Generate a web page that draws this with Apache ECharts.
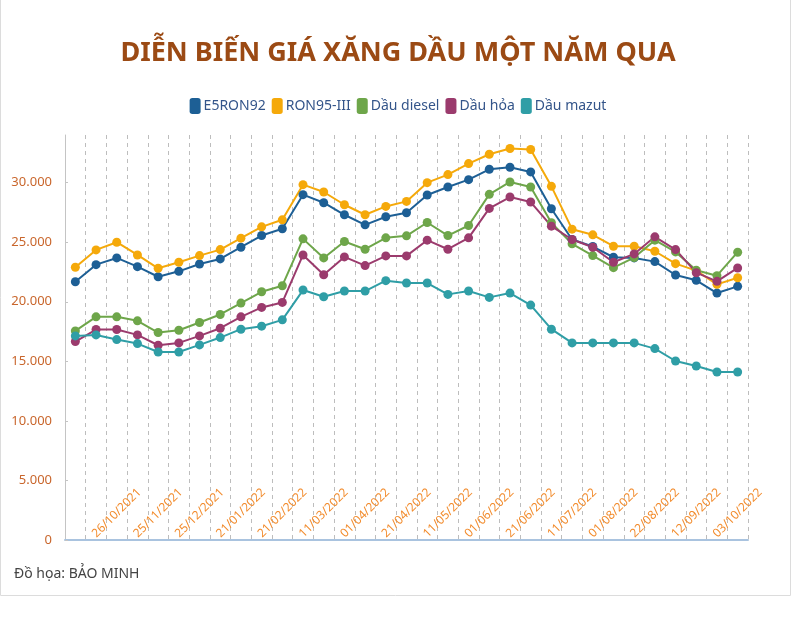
<!DOCTYPE html>
<html>
<head>
<meta charset="utf-8">
<title>Diễn biến giá xăng dầu một năm qua</title>
<script src="https://cdn.jsdelivr.net/npm/echarts@6/dist/echarts.min.js"></script>
<style>
  html, body { margin: 0; padding: 0; background: #fff; }
  #chart { width: 796px; height: 620px; }
</style>
</head>
<body>
<div id="chart"></div>
<script>
// ngày điều chỉnh giá
const dates = [
  '27/09/2021', '11/10/2021', '26/10/2021', '10/11/2021', '25/11/2021', '10/12/2021',
  '25/12/2021', '11/01/2022', '21/01/2022', '11/02/2022', '21/02/2022', '01/03/2022',
  '11/03/2022', '21/03/2022', '01/04/2022', '11/04/2022', '21/04/2022', '26/04/2022',
  '11/05/2022', '23/05/2022', '01/06/2022', '13/06/2022', '21/06/2022', '01/07/2022',
  '11/07/2022', '21/07/2022', '01/08/2022', '11/08/2022', '22/08/2022', '01/09/2022',
  '12/09/2022', '21/09/2022', '03/10/2022'
]

const e5ron92 = [
  21685, 23116, 23680, 22950, 22100, 22556, 23175, 23596, 24580, 25560, 26125, 28990,
  28315, 27303, 26460, 27135, 27472, 28962, 29637, 30253, 31122, 31290, 30900, 27809,
  25225, 24635, 23736, 23680, 23370, 22247, 21800, 20730, 21295
]
const ron95 = [
  22895, 24354, 25000, 23930, 22810, 23317, 23875, 24380, 25340, 26290, 26880, 29832,
  29215, 28146, 27303, 28005, 28427, 30000, 30674, 31600, 32386, 32865, 32780, 29690,
  26095, 25620, 24663, 24663, 24241, 23200, 22610, 21463, 22020
]
const diesel = [
  17555, 18735, 18735, 18400, 17415, 17612, 18260, 18935, 19888, 20840, 21347, 25280,
  23680, 25056, 24410, 25365, 25534, 26655, 25560, 26403, 29018, 30056, 29637, 26629,
  24860, 23875, 22866, 23708, 25170, 24185, 22640, 22190, 24160
]
const dauHoa = [
  16660, 17670, 17670, 17218, 16350, 16546, 17134, 17780, 18735, 19525, 19946, 23930,
  22272, 23764, 23034, 23850, 23850, 25170, 24410, 25365, 27837, 28793, 28371, 26350,
  25225, 24580, 23317, 24017, 25450, 24380, 22440, 21716, 22838
]
const mazut = [
  17134, 17218, 16826, 16490, 15785, 15785, 16377, 16995, 17697, 17950, 18483, 20983,
  20420, 20900, 20900, 21770, 21573, 21573, 20620, 20900, 20367, 20730, 19720, 17697,
  16546, 16546, 16546, 16546, 16068, 15026, 14605, 14100, 14100
]

const seriesNames = ['E5RON92', 'RON95-III', 'Dầu diesel', 'Dầu hỏa', 'Dầu mazut']
const seriesColors = ['#1d5f95', '#f5a90a', '#6ea64a', '#9b3b6d', '#2f9ea6']

const fontFamily = '"Noto Sans", "Open Sans", sans-serif'

// 1000 -> 1.000
function formatNumber(v) {
  return String(v).replace(/\B(?=(\d{3})+(?!\d))/g, '.')
}

function makeLine(name, data, color) {
  return {
    name: name,
    type: 'line',
    data: data,
    symbol: 'circle',
    symbolSize: 9,
    lineStyle: { width: 2, color: color },
    itemStyle: { color: color },
    emphasis: { disabled: true }
  }
}

const chart = echarts.init(document.getElementById('chart'))
chart.setOption({
  animation: false,
  textStyle: { fontFamily: fontFamily },
  title: {
    text: 'DIỄN BIẾN GIÁ XĂNG DẦU MỘT NĂM QUA',
    left: 'center',
    top: 35,
    textStyle: {
      color: '#9b4a14',
      fontSize: 27,
      fontWeight: 'bold',
      fontFamily: fontFamily
    }
  },
  legend: {
    top: 93,
    left: 'center',
    icon: 'roundRect',
    itemWidth: 11,
    itemHeight: 16,
    itemGap: 6,
    textStyle: { color: '#34558a', fontSize: 14, padding: [0, 0, 0, -2] },
    data: seriesNames
  },
  grid: { left: 65, right: 48, top: 135, bottom: 80 },
  xAxis: {
    type: 'category',
    data: dates,
    boundaryGap: true,
    axisLine: { lineStyle: { color: '#a9c3df', width: 2 } },
    axisTick: { show: false },
    axisLabel: {
      interval: (index) => index > 0 && index % 2 === 0,
      rotate: 45,
      align: 'center',
      verticalAlign: 'middle',
      margin: -27,
      color: '#f28b2c',
      fontSize: 12
    },
    splitLine: {
      show: true,
      interval: 0,
      lineStyle: { color: '#bdbdbd', type: [4, 4], width: 1 }
    }
  },
  yAxis: {
    type: 'value',
    min: 0,
    max: 34000,
    interval: 5000,
    axisLine: { show: true, lineStyle: { color: '#c4c4c4' } },
    axisTick: { show: true, inside: true, length: 3, lineStyle: { color: '#c4c4c4' } },
    splitLine: { show: false },
    axisLabel: {
      showMaxLabel: false,
      margin: 13,
      color: '#c9662c',
      fontSize: 13,
      formatter: formatNumber
    }
  },
  graphic: [
    {
      type: 'text',
      left: 14,
      top: 567,
      style: {
        text: 'Đồ họa: BẢO MINH',
        fill: '#444',
        font: '14px ' + fontFamily
      }
    },
    {
      type: 'polyline',
      shape: { points: [[0.5, 0], [0.5, 595.5], [790.5, 595.5], [790.5, 0]] },
      style: { stroke: '#dcdcdc', fill: null, lineWidth: 1 },
      silent: true
    }
  ],
  series: [
    makeLine(seriesNames[0], e5ron92, seriesColors[0]),
    makeLine(seriesNames[1], ron95, seriesColors[1]),
    makeLine(seriesNames[2], diesel, seriesColors[2]),
    makeLine(seriesNames[3], dauHoa, seriesColors[3]),
    makeLine(seriesNames[4], mazut, seriesColors[4])
  ]
})
</script>
</body>
</html>
